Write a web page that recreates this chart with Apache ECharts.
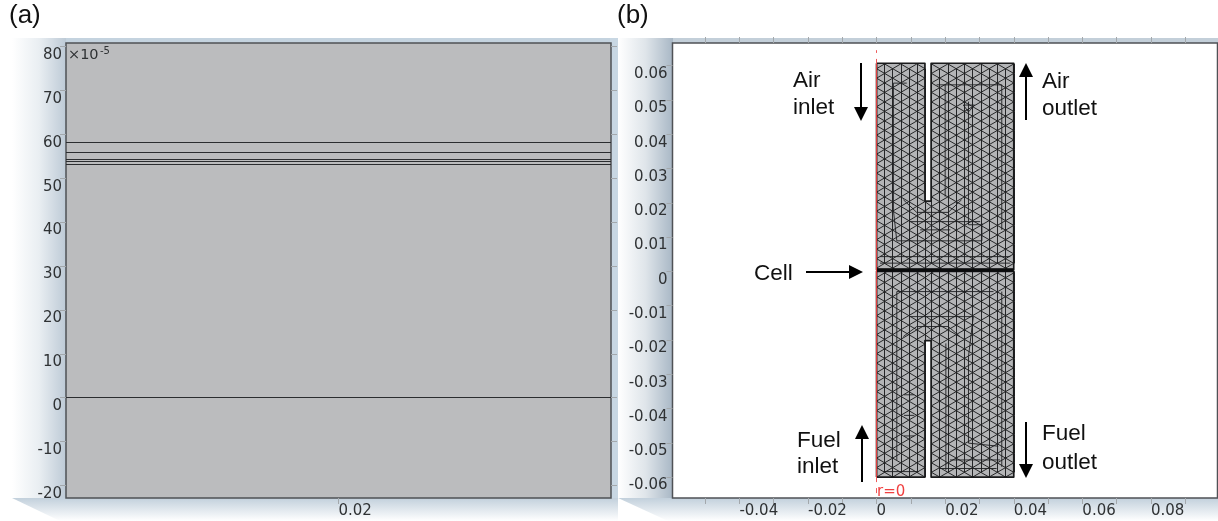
<!DOCTYPE html>
<html><head><meta charset="utf-8">
<style>html,body{margin:0;padding:0;background:#fff}#c{width:1218px;height:521px;filter:blur(0.45px)}</style>
<script src="https://cdn.jsdelivr.net/npm/echarts@6/dist/echarts.min.js"></script>
</head><body><div id="c"></div>
<script>
// ---- data ----
const panelATicksY = [80,70,60,50,40,30,20,10,0,-10,-20];
const panelATicksX = [0.02];
const layerLinesA = [58.1,56.0,54.4,53.8,53.2,0];
const panelBTicksY = [0.06,0.05,0.04,0.03,0.02,0.01,0,-0.01,-0.02,-0.03,-0.04,-0.05,-0.06];
const panelBMinorX = [-0.05,-0.04,-0.03,-0.02,-0.01,0,0.01,0.02,0.03,0.04,0.05,0.06,0.07,0.08,0.09];
const panelBLabelX = [-0.04,-0.02,0,0.02,0.04,0.06,0.08];
// mesh geometry, millimetres
const upperOutline = [[0,60.7],[14.1,60.7],[14.1,20.5],[15.9,20.5],[15.9,60.7],[40,60.7],[40,0.5],[0,0.5]];
const lowerOutline = [[0,-60],[14.1,-60],[14.1,-20.2],[15.9,-20.2],[15.9,-60],[40,-60],[40,0],[0,0]];
const meshCols = [0,2.35,4.7,7.05,9.4,11.75,14.1,16,18.4,20.8,23.2,25.6,28,30.4,32.8,35.2,37.6,40];
const meshRows = [-60,-57.23,-54.46,-51.69,-48.92,-46.15,-43.38,-40.61,-37.84,-35.07,-32.3,-29.53,-26.76,-23.99,-21.22,-18.45,-15.68,-12.91,-10.14,-7.37,-4.6,-1.83,0.94,3.71,6.48,9.25,12.02,14.79,17.56,20.33,23.1,25.87,28.64,31.41,34.18,36.95,39.72,42.49,45.26,48.03,50.8,53.57,56.34,59.11,61.88];
const meshFeatures = [
 [[4.9,54.9],[4.9,17.9],[5.9,8.9],[30.7,8.9],[30.7,14.1]],
 [[4.9,54.9],[8.8,54.9]],
 [[17.5,54.4],[36.5,54.4],[36.5,12.1]],
 [[20,54.4],[20,21.8]],
 [[26.8,49.5],[26.8,13.6],[30.7,13.6]],
 [[25.3,48.5],[28.6,48.5],[26.8,46.5],[25.3,48.5]],
 [[7.8,20.9],[11.7,17.2],[20.9,17.2],[24.8,20.9]],
 [[1,4.3],[39,4.3]],[[1,2.4],[39,2.4]],
 [[9.8,14.5],[30.2,14.5]],[[12.7,12.1],[21.5,12.1]],
 [[5.9,-5.9],[34.1,-5.9]],[[5.9,-5.9],[5.9,-55]],
 [[9.8,-13.2],[28.2,-13.2],[26.8,-24.8],[26.8,-50.1],[35.5,-51]],
 [[36.5,-5.9],[36.5,-57]],
 [[7.8,-19],[11.7,-16.1],[20.9,-16.1],[24.3,-19]],
 [[20.2,-21],[20.2,-58]],
 [[2,-58.4],[12.2,-58.4]],[[18.5,-57.5],[35,-57.5]],[[21.4,-55],[36,-55]],
 [[8,-36],[11,-36]],[[8,-42],[11,-42]],[[8,-48],[11,-48]]
];
const cellLine = [[0,0.4],[40,0.4]];
const axisLineR = [[-0.0002,0.0605],[-0.0002,-0.0600]];

// ---- helpers ----
const MM = 0.001;
const regions = [[0,14.1,0.5,60.7],[15.9,40,0.5,60.7],[0,40,0.5,20.5],
                 [0,14.1,-60,0],[15.9,40,-60,0],[0,40,-20.2,0]];
const inside = (x,y)=>regions.some(r=>x>=r[0]&&x<=r[1]&&y>=r[2]&&y<=r[3]);
function clip(a,b){
  let first=null,last=null;
  for(let k=0;k<=14;k++){const t=k/14,x=a[0]+(b[0]-a[0])*t,y=a[1]+(b[1]-a[1])*t;
    if(inside(x,y)){ if(!first) first=[x,y]; last=[x,y]; }
    else if(first) break;}
  return first&&first!==last?[first,last]:null;
}
const node=(i,j)=>[meshCols[i], i%2 ? (meshRows[j]+meshRows[j+1])/2 : meshRows[j]];
const meshSegs=[];
for(let i=0;i<meshCols.length;i++){
  for(let j=0;j<meshRows.length-1;j++){
    const n=node(i,j), cand=[];
    if(j+1<meshRows.length-1) cand.push(node(i,j+1));
    if(i+1<meshCols.length){
      cand.push(node(i+1,j));
      const other=i%2?j+1:j-1;
      if(other>=0&&other<meshRows.length-1) cand.push(node(i+1,other));
    }
    cand.forEach(c=>{const s=clip(n,c); if(s) meshSegs.push(s);});
  }
}
const toM=p=>[p[0]*MM,p[1]*MM];
const closed=o=>o.concat([o[0]]).map(toM);

const xB={xAxisIndex:1,yAxisIndex:2};
const tick={show:true,length:6,inside:false,lineStyle:{color:'#a3a8ac',width:1}};
const lab={color:'#2f3234',fontFamily:'DejaVu Sans',fontSize:15};
const hide={show:false};
const noLine={show:false,onZero:false};

// ---- decoration (page furniture behind the plots) ----
const grad=(x,y,x2,y2,stops)=>({type:'linear',x,y,x2,y2,colorStops:stops.map((c,i)=>({offset:i/(stops.length-1),color:c}))});
const deco=[
 {type:'rect',z:-1,shape:{x:12,y:38,width:54,height:460},style:{fill:grad(0,0,1,0,['#ffffff','#e9eef2','#bdcad6'])}},
 {type:'rect',z:-1,shape:{x:66,y:38,width:552,height:6},style:{fill:'#c4d3df'}},
 {type:'rect',z:-1,shape:{x:610,y:38,width:8,height:462},style:{fill:'#c8d7e3'}},
 {type:'polygon',z:-1,shape:{points:[[12,498],[618,498],[618,521],[60,521]]},style:{fill:grad(0,0,0,1,['#c2d0dc','#ffffff'])}},
 {type:'rect',z:-1,shape:{x:618,y:38,width:55,height:460},style:{fill:grad(0,0,1,0,['#ffffff','#dfe5ea','#a8b7c5'])}},
 {type:'rect',z:-1,shape:{x:673,y:38,width:545,height:6},style:{fill:'#c3cfd9'}},
 {type:'polygon',z:-1,shape:{points:[[618,498],[1218,498],[1218,521],[668,521]]},style:{fill:grad(0,0,0,1,['#c2d0dc','#ffffff'])}}
];
const T=(text,x,y,extra)=>({type:'text',z:60,x,y,style:Object.assign({text,fill:'#111',font:'22.5px "Liberation Sans"',textVerticalAlign:'middle'},extra||{})});
const texts=[
 T('(a)',9,16,{font:'26px "Liberation Sans"'}),T('(b)',617,16,{font:'26px "Liberation Sans"'}),
 T('Air',793,81),T('inlet',793,108),T('Cell',754,274),
 T('Air',1042,82),T('outlet',1042,109),
 T('Fuel',797,441),T('inlet',797,467),
 T('Fuel',1042,434),T('outlet',1042,463),
 T('×10',68,55,{font:'14.5px "DejaVu Sans"',fill:'#2f3234'}),
 T('-5',100,51,{font:'10px "DejaVu Sans"',fill:'#2f3234'}),
 T('r=0',877,492,{font:'15px "DejaVu Sans"',fill:'#f04040'})
];
const arrow=(x1,y1,x2,y2)=>{
  const ang=Math.atan2(y2-y1,x2-x1),h=14,w=7;
  const bx=x2-Math.cos(ang)*h,by=y2-Math.sin(ang)*h;
  const px=-Math.sin(ang)*w,py=Math.cos(ang)*w;
  return [{type:'line',z:60,shape:{x1,y1,x2:bx,y2:by},style:{stroke:'#000',lineWidth:2}},
          {type:'polygon',z:60,shape:{points:[[x2,y2],[bx+px,by+py],[bx-px,by-py]]},style:{fill:'#000'}}];
};
const arrows=[].concat(arrow(861,63,861,121),arrow(1026,120,1026,63),arrow(806,272,863,272),arrow(862,482,862,425),arrow(1026,422,1026,478));

const chart=echarts.init(document.getElementById('c'),null,{renderer:'canvas'});
chart.setOption({
 animation:false,backgroundColor:'#fff',
 graphic:{elements:deco.concat(texts,arrows)},
 grid:[
  {left:66,top:43,width:545,height:455,show:true,backgroundColor:'#bbbcbe',borderColor:'#4f5256',borderWidth:1.5},
  {left:672.5,top:43,width:545,height:455,show:true,backgroundColor:'#ffffff',borderColor:'#4f5256',borderWidth:1.5}
 ],
 xAxis:[
  {gridIndex:0,type:'value',min:0,max:0.04,splitLine:hide,axisLine:noLine,
   axisTick:Object.assign({customValues:panelATicksX},tick),
   axisLabel:Object.assign({customValues:panelATicksX,align:'left',margin:5.5,formatter:v=>String(v)},lab)},
  {gridIndex:1,type:'value',min:-0.0595,max:0.0994,splitLine:hide,axisLine:noLine,
   axisTick:Object.assign({customValues:panelBMinorX},tick),
   axisLabel:Object.assign({customValues:panelBLabelX,align:'left',margin:5.5,formatter:v=>String(v)},lab)},
  {gridIndex:1,type:'value',position:'top',min:-0.0595,max:0.0994,splitLine:hide,axisLine:noLine,
   axisTick:Object.assign({customValues:panelBMinorX},tick),axisLabel:hide}
 ],
 yAxis:[
  {gridIndex:0,type:'value',min:-22.85,max:80.8,splitLine:hide,axisLine:noLine,
   axisTick:Object.assign({customValues:panelATicksY},tick),
   axisLabel:Object.assign({customValues:panelATicksY,verticalAlign:'top',lineHeight:17,margin:4,showMinLabel:true,showMaxLabel:true,formatter:v=>String(v)},lab)},
  {gridIndex:0,type:'value',position:'right',min:-22.85,max:80.8,splitLine:hide,axisLine:noLine,
   axisTick:Object.assign({customValues:panelATicksY},tick),axisLabel:hide},
  {gridIndex:1,type:'value',min:-0.0661,max:0.0666,splitLine:hide,axisLine:noLine,
   axisTick:Object.assign({customValues:panelBTicksY},tick),
   axisLabel:Object.assign({customValues:panelBTicksY,verticalAlign:'top',lineHeight:17,margin:5,formatter:v=>String(v)},lab)}
 ],
 series:[
  {type:'lines',coordinateSystem:'cartesian2d',xAxisIndex:0,yAxisIndex:0,silent:true,
   lineStyle:{color:'#2b2d30',width:1.2,opacity:1},
   data:layerLinesA.map(v=>({coords:[[0,v],[0.04,v]]}))},
  Object.assign({type:'custom',coordinateSystem:'cartesian2d',silent:true,z:2,
   data:[[0],[1]],
   renderItem:(p,api)=>{
     const o=[upperOutline,lowerOutline][p.dataIndex];
     return {type:'polygon',shape:{points:o.map(q=>api.coord(toM(q)))},style:{fill:'#b4b5b7'}};
   }},xB),
  Object.assign({type:'lines',coordinateSystem:'cartesian2d',silent:true,z:3,
   lineStyle:{color:'#1c1d1f',width:0.95,opacity:1},
   data:meshSegs.map(s=>({coords:s.map(toM)}))},xB),
  Object.assign({type:'lines',coordinateSystem:'cartesian2d',polyline:true,silent:true,z:4,
   lineStyle:{color:'#1d1e20',width:0.9,opacity:1},
   data:meshFeatures.map(f=>({coords:f.map(toM)}))},xB),
  Object.assign({type:'lines',coordinateSystem:'cartesian2d',polyline:true,silent:true,z:5,
   lineStyle:{color:'#1a1b1c',width:1.7,opacity:1,join:'round'},
   data:[{coords:closed(upperOutline)},{coords:closed(lowerOutline)}]},xB),
  Object.assign({type:'lines',coordinateSystem:'cartesian2d',polyline:true,silent:true,z:6,
   lineStyle:{color:'#0a0b0c',width:3.6,opacity:1},
   data:[{coords:cellLine.map(toM)}]},xB),
  Object.assign({type:'lines',coordinateSystem:'cartesian2d',silent:true,z:7,
   lineStyle:{color:'#e04040',width:1.1,opacity:1},
   data:[{coords:axisLineR}]},xB),
  Object.assign({type:'lines',coordinateSystem:'cartesian2d',silent:true,z:7,
   lineStyle:{color:'#ef5a5a',width:1,opacity:1,type:[5,6]},
   data:[{coords:[[-0.0002,0.0605],[-0.0002,0.0645]]},{coords:[[-0.0002,-0.06],[-0.0002,-0.0655]]}]},xB)
 ]
});
</script></body></html>
